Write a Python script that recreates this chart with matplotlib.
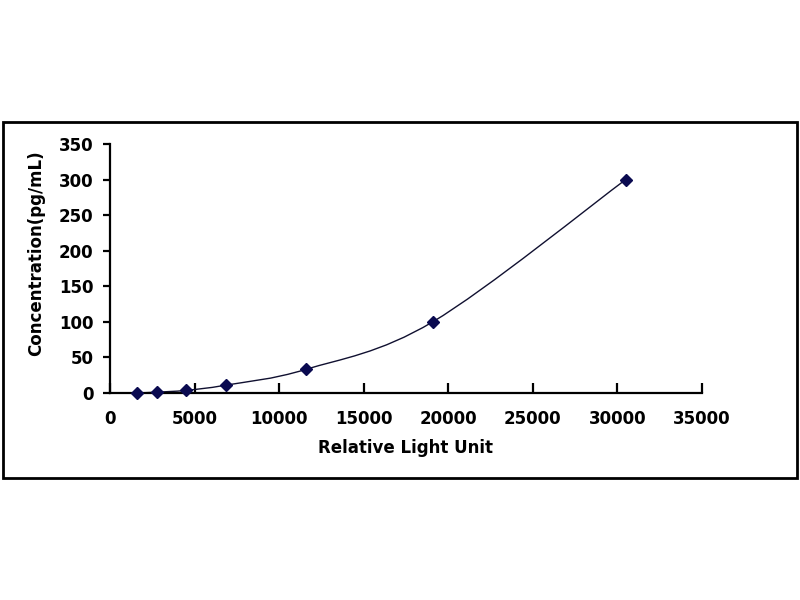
import numpy as np
import matplotlib
matplotlib.use("Agg")
import matplotlib.pyplot as plt
from matplotlib.path import Path
from matplotlib.patches import PathPatch, Rectangle

# standard curve
rlu = [1580, 2800, 4490, 6860, 11590, 19080, 30490]
conc = [0, 1.23, 3.7, 11.1, 33.3, 100, 300]

x_ticks = [0, 5000, 10000, 15000, 20000, 25000, 30000, 35000]
y_ticks = [0, 50, 100, 150, 200, 250, 300, 350]

plt.rcParams['font.family'] = ['DejaVu Sans']
plt.rcParams['font.weight'] = 'bold'

navy = '#0a0a50'

fig = plt.figure(figsize=(8, 6), dpi=100)
ax = fig.add_axes([0.1375, 0.345, 0.74, 0.415])

# smoothed line like the spreadsheet one: bezier through the points
x = np.array(rlu, float)
y = np.array(conc, float)
verts = [(x[0], y[0])]
codes = [Path.MOVETO]
n = len(x)
for i in range(n - 1):
    x0, y0 = (x[i - 1], y[i - 1]) if i > 0 else (x[i], y[i])
    x3, y3 = (x[i + 2], y[i + 2]) if i + 2 < n else (x[i + 1], y[i + 1])
    c1 = (x[i] + (x[i + 1] - x0) / 6, y[i] + (y[i + 1] - y0) / 6)
    c2 = (x[i + 1] - (x3 - x[i]) / 6, y[i + 1] - (y3 - y[i]) / 6)
    verts += [c1, c2, (x[i + 1], y[i + 1])]
    codes += [Path.CURVE4] * 3
ax.add_patch(PathPatch(Path(verts, codes), fc='none', ec='#101030', lw=1.0, zorder=2))

ax.plot(rlu, conc, ls='none', marker='D', ms=6.2, color=navy, zorder=3, clip_on=False)

ax.set_xlim(0, 35000)
ax.set_ylim(0, 350)
ax.set_xticks(x_ticks)
ax.set_yticks(y_ticks)
ax.set_xticklabels([str(v) for v in x_ticks])
ax.set_yticklabels([str(v) for v in y_ticks])

for s in ['top', 'right']:
    ax.spines[s].set_visible(False)
for s in ['left', 'bottom']:
    ax.spines[s].set_linewidth(1.6)
    ax.spines[s].set_color('black')

ax.tick_params(axis='x', direction='in', length=7, width=1.6, labelsize=12, pad=12)
ax.tick_params(axis='y', direction='out', length=5, width=1.6, labelsize=12, pad=7)

ax.set_xlabel('Relative Light Unit', fontsize=12, fontweight='bold', labelpad=8)
ax.set_ylabel('Concentration(pg/mL)', fontsize=12, fontweight='bold', labelpad=10)
ax.yaxis.set_label_coords(-0.11, 0.56)

# outer frame around the chart
fig.patches.append(Rectangle((0.004, 0.203), 0.992, 0.594, transform=fig.transFigure,
                             fill=False, ec='black', lw=2))

fig.savefig('out.png', dpi=100)
